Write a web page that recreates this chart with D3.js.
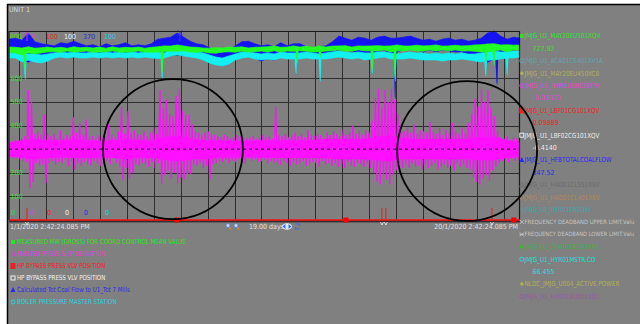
<!DOCTYPE html>
<html><head><meta charset="utf-8">
<script src="https://cdn.jsdelivr.net/npm/d3@7"></script>
<style>
html,body{margin:0;padding:0;background:#fff;overflow:hidden;}
svg{display:block;}
text{font-family:"Liberation Sans Narrow","DejaVu Sans Condensed","Arial Narrow",sans-serif;}
</style></head><body>
<svg id="c" width="640" height="324"></svg>
<script>
// ---------- DATA ----------
const startTime = new Date(2020,0,1,14,42,24,85);
const endTime   = new Date(2020,0,20,14,42,24,85);
const startLabel = "1/1/2020 2:42:24.085 PM";
const endLabel   = "20/1/2020 2:42:24.085 PM";
const spanLabel  = "19.00 days";
const title = "UNIT 1";

// trends (order of the left legend)
const trendNames = ["MEASURED MW (GROSS) FOR COORD CONTROL MEAN VALUE","MASTER PRESS & SP DEVIATION",
  "HP BYPASS PRESS VLV POSITION","HP BYPASS PRESS VLV POSITION",
  "Calculated Tot Coal Flow to U1_Tot 7 Mills","BOILER PRESSURE MASTER STATION"];
const trendColors = ["#22e622","#e03ae0","#f02020","#f2f2f2","#2a2ae6","#22d4dc"];
const trendMarkers = ["square","ring","bigsquare","opensquare","tri","ring"];
const trendMin = [0,-6,0,0,0,0];
const trendMax = [800,10,100,100,370,100];

// Measured MW envelope per time bucket (MW)
const mwHi = [732,731,728,733,727,729,732,728,731,727,733,729,731,728,732,727,733,728,731,729,732,727,731,733,737,736,741,737,732,731,728,727,729,728,732,731,733,728,731,732,733,736,731,732,737,732,736,731,737,732,736,737,738,732,737,736,737,738,736,737,741,737,736,740,737,738,741,736,737,740,737,738,741,742,745,746,741,742,740,741];
const mwLo = [711,707,698,707,703,707,711,712,710,715,711,712,715,710,711,712,715,711,710,712,715,711,710,711,712,715,714,716,711,710,712,707,706,711,712,710,715,711,712,715,711,716,711,715,714,716,714,711,712,715,716,720,715,714,720,716,716,715,720,711,716,715,720,716,714,720,715,720,716,720,715,716,714,711,713,715,720,711,720,719];
const mwDipTimes = [new Date(2020,0,2,5,0), new Date(2020,0,7,7,12), new Date(2020,0,12,7,40), new Date(2020,0,13,4,15), new Date(2020,0,15,2,40), new Date(2020,0,15,23,10), new Date(2020,0,19,8,20), new Date(2020,0,19,15,25)];
const mwDipValues = [635,631,669,694,643,605,677,660];
// Coal flow envelope (t/h)
const coalHi = [354,356,352,366,349,345,343,341,347,345,350,345,341,343,339,345,341,343,347,341,343,341,345,354,356,358,366,358,350,345,343,337,329,327,333,341,349,350,345,341,343,339,347,341,345,345,339,337,339,341,349,360,356,352,358,356,352,358,360,356,356,358,360,356,352,354,350,354,356,352,354,350,352,356,366,370,360,354,358,356];
const coalLo = [329,323,313,309,317,309,317,323,321,323,323,321,323,325,321,323,321,323,323,323,325,323,325,329,323,337,337,333,329,325,321,313,305,302,307,317,325,327,317,311,317,313,321,317,317,319,321,317,317,321,325,333,333,329,329,325,325,329,333,323,329,333,337,333,329,333,329,333,331,329,329,325,323,317,309,315,321,323,333,333];
const coalDipTimes = [new Date(2020,0,12,6,40), new Date(2020,0,13,4,15), new Date(2020,0,15,2,40), new Date(2020,0,15,23,10), new Date(2020,0,19,18,0)];
const coalDipValues = [302,305,302,241,268];
// Boiler pressure master station envelope (%)
const bpmHi = [88.9,88.4,87.8,87.8,87.8,87.3,87.8,88.4,88.9,88.4,88.9,88.4,88.4,88.9,88.4,88.9,88.4,88.9,88.4,88.9,88.4,88.9,88.9,88.9,88.4,89.9,89.9,89.9,89.4,88.9,88.4,87.3,86.2,85.7,86.8,87.8,88.9,88.9,88.4,87.8,88.4,87.8,88.9,88.4,88.4,88.4,88.9,88.4,87.8,88.4,88.9,89.4,88.9,88.4,88.9,88.4,88.4,88.9,88.9,88.4,87.8,88.4,88.9,88.4,88.4,87.8,88.4,87.8,88.4,87.8,88.4,87.8,87.8,88.4,88.9,89.4,88.9,88.9,89.4,89.4];
const bpmLo = [85.7,85.7,83.6,84.5,83.6,83.1,84.1,85.7,86.2,85.7,86.2,85.7,85.7,86.2,85.7,86.2,85.7,86.2,85.7,86.2,85.7,86.2,85.7,85.5,85.7,86.8,87.3,86.8,86.2,85.7,84.7,83.1,82.0,81.5,82.5,84.7,85.7,86.2,85.2,84.7,85.2,84.7,85.7,85.2,85.2,85.2,85.7,85.2,85.2,85.2,85.7,86.2,85.7,85.2,85.7,84.7,85.2,85.7,86.2,85.2,85.2,85.2,85.7,85.2,84.7,84.7,84.7,84.1,84.7,84.7,85.2,84.7,84.1,83.6,84.5,84.7,85.2,85.7,85.7,86.2];
const bpmDipTimes = [new Date(2020,0,2,5,0), new Date(2020,0,7,7,12), new Date(2020,0,12,6,40), new Date(2020,0,13,4,15), new Date(2020,0,15,2,40), new Date(2020,0,15,23,10), new Date(2020,0,19,8,0), new Date(2020,0,20,3,5)];
const bpmDipValues = [75.1,75.7,78.3,74.1,78.3,74.1,76.7,77.2];
// Master press & SP deviation: dense core envelope
const devCoreHi = [0.6,0.75,0.85,0.75,0.75,0.85,0.75,0.7,0.75,0.85,0.75,0.75,1.05,1.15,0.85,0.75,0.75,0.7,0.7,0.75,0.75,0.75,0.75,0.75,0.85,0.85,0.85,0.85,1.05,1.15,0.95,0.85,0.85,0.85,0.85,0.85,1.05,1.05,0.75,0.65];
const devCoreLo = [-0.65,-0.75,-0.85,-0.75,-0.7,-0.75,-0.75,-0.7,-0.75,-0.85,-0.75,-0.75,-0.95,-1.05,-0.85,-0.85,-0.75,-0.7,-0.7,-0.7,-0.75,-0.75,-0.75,-0.75,-0.75,-0.85,-0.85,-0.85,-0.95,-1.05,-0.85,-0.85,-0.85,-0.85,-0.85,-0.85,-0.95,-0.95,-0.75,-0.65];
// Master press & SP deviation: max / min per time bucket
const devMax = [0.7,0.6,0.8,0.7,0.9,1.1,5.0,4.0,1.3,1.5, 1.2,2.9,1.4,1.1,1.3,0.9,1.6,1.0,1.2,1.1,
 2.7,1.4,2.2,1.2,2.5,1.0,1.1,0.9,1.2,1.0, 1.1,2.1,1.2,1.0,1.5,3.6,1.3,3.2,1.4,1.6,
 1.3,1.2,1.5,1.1,1.4,1.8,1.3,5.0,3.5,4.2, 3.0,2.8,4.5,5.1,3.2,2.9,2.9,2.1,1.5,1.4,
 1.2,1.4,1.5,1.3,1.2,1.1,1.0,1.2,1.1,0.9, 1.0,1.2,1.1,1.0,0.9,1.0,1.1,0.9,1.0,1.2,
 1.0,1.1,0.9,3.6,1.2,1.1,1.3,1.0,1.2,1.4, 1.1,1.3,1.0,1.6,1.2,1.1,1.3,1.2,1.0,1.4,
 1.2,1.5,1.3,1.1,1.7,1.2,1.4,2.0,1.3,1.5, 1.2,1.6,1.4,2.4,4.3,5.1,3.5,5.0,4.0,5.1,
 4.2,3.0,2.0,1.5,1.8,1.4,2.1,1.3,1.6,1.5, 1.4,2.3,1.5,1.3,1.8,1.2,1.6,1.4,2.2,1.5,
 1.3,1.8,1.4,2.2,3.0,4.3,3.6,5.1,4.0,5.0, 3.5,2.8,1.6,1.0,0.9,1.1,0.8,1.0,0.9,0.8];
const devMin = [-0.7,-0.8,-0.6,-0.9,-1.0,-1.1,-3.3,-2.8,-1.2,-1.4, -1.3,-2.9,-1.2,-1.0,-1.3,-1.1,-1.2,-0.9,-1.4,-1.0,
 -1.7,-1.2,-1.4,-1.1,-1.3,-1.4,-1.0,-1.2,-1.4,-0.9, -1.0,-1.3,-0.8,-1.2,-1.5,-2.6,-1.6,-2.5,-2.0,-1.3,
 -1.4,-1.2,-1.3,-1.5,-1.1,-1.6,-1.2,-3.0,-2.2,-1.8, -2.5,-2.0,-2.9,-2.4,-2.6,-2.1,-2.1,-1.3,-1.4,-1.2,
 -1.6,-1.4,-2.6,-1.3,-1.2,-1.0,-1.1,-0.9,-1.2,-1.0, -1.1,-0.9,-1.0,-1.2,-0.8,-1.0,-0.9,-1.1,-1.0,-0.9,
 -1.2,-1.0,-1.1,-1.2,-1.3,-1.0,-1.2,-1.4,-1.1,-1.3, -1.2,-1.0,-1.4,-1.3,-1.1,-1.2,-1.5,-1.0,-1.3,-1.2,
 -1.4,-1.2,-1.5,-1.3,-1.6,-1.1,-1.4,-1.5,-1.2,-1.3, -1.5,-1.2,-1.6,-2.0,-2.8,-3.0,-2.2,-2.6,-3.0,-2.2,
 -1.8,-1.5,-1.6,-1.3,-1.6,-1.2,-1.5,-1.4,-1.7,-1.3, -1.6,-1.4,-1.2,-1.7,-1.5,-1.3,-1.6,-1.4,-1.8,-1.2,
 -1.5,-1.3,-1.6,-1.7,-2.4,-2.8,-3.0,-2.5,-2.2,-2.7, -1.8,-1.5,-1.2,-1.0,-0.9,-1.1,-0.8,-1.0,-0.9,-0.7];

// annotation circles (centre time, centre MW level, radius in days)
const noteTimes = [new Date(2020,0,7,17,0), new Date(2020,0,18,15,30)];
const noteLevels = [300, 292];
const noteRadiusDays = [2.6, 2.6];
// events on the time bar
const barSquareTimes = [new Date(2020,0,7,20,35), new Date(2020,0,14,3,25), new Date(2020,0,20,9,10)];
const barTickTimes = [new Date(2020,0,2,6,45), new Date(2020,0,15,11,30), new Date(2020,0,15,15,0), new Date(2020,0,19,13,40)];
const topMarkTimes = [new Date(2020,0,2,6,45), new Date(2020,0,7,23,15)];
const topMarkColors = ["#c040e0","#3a3aff"];

// right-hand tag legend
const tagNames = ["JMJG_U1_MAY20EU501XQV","JMJG_U1_ACA01CE401XV1A","JMJG_U1_MAY20EU450XC8","JMJG_U1_HYR01EU003XTV",
 "JMJG_U1_LBF01CG101XQV","JMJG_U1_LBF02CG101XQV","JMJG_U1_HFBTOTALCOALFLOW","JMJG_U1_HAD01CL551XSV",
 "JMJG_U1_HAD01CL401XSV","JMJG_U1_HYR01FREQIN","FREQUENCY DEADBAND UPPER LIMIT.Valu","FREQUENCY DEADBAND LOWER LIMIT.Valu",
 "JMJG_U1_CHA01CE301XV1","JMJG_U1_HYR01MSTR.CO","NLDC_JMJG_U004_ACTIVE POWER","JMJG_U1_HYR01EU001XQ1"];
const tagValues = ["727.92",null,null,"-0.01573","0.09889","-0.4140","347.52",null,null,null,null,null,null,"66.455",null,null];
const tagColors = ["#2ee02e","#62a6ae","#b4ae62","#e83ae8","#ee2424","#ececec","#2a2aee","#6c6c6c",
 "#b48a58","#3aa8a8","#c4c4c4","#c4c4c4","#3cb43c","#26dede","#b2b054","#9a5aa2"];
const tagMarkers = ["dot","ring","diamond","ring","bigsquare","opensquare","tri","opentri","ring","smalldot","x","star","triright","ring","diamond","ring"];

// ---------- DRAW ----------
const svg = d3.select("#c");
const P = {l:9, r:520, t:31, b:220};
const FS = 7;

svg.append("rect").attr("x",7).attr("y",4).attr("width",633).attr("height",320).attr("fill","#808080");
svg.append("path").attr("d","M7.5,324V4.5H640").attr("fill","none").attr("stroke","#000").attr("stroke-width",1.5);

const x = d3.scaleTime().domain([startTime,endTime]).range([P.l,P.r]);
const ys = trendMin.map((m,i)=>d3.scaleLinear().domain([m,trendMax[i]]).range([P.b,P.t]));
const yMW = ys[0], yDev = ys[1], yCoal = ys[4], yBpm = ys[5];
const tAt = (i,n)=> new Date(+startTime + i*(endTime-startTime)/(n-1));

svg.append("defs").append("clipPath").attr("id","pc").append("rect")
  .attr("x",P.l).attr("y",P.t-3).attr("width",P.r-P.l).attr("height",P.b-P.t+3);

// grid
const grid = svg.append("g").attr("stroke","#2e2e2e").attr("stroke-width",1);
grid.selectAll("line.h").data(yMW.ticks(8)).join("line")
  .attr("x1",P.l).attr("x2",P.r).attr("y1",d=>Math.round(yMW(d))+0.5).attr("y2",d=>Math.round(yMW(d))+0.5);
grid.selectAll("line.v").data(x.ticks(d3.timeDay.every(1))).join("line")
  .attr("y1",P.t).attr("y2",P.b).attr("x1",d=>Math.round(x(d))+0.5).attr("x2",d=>Math.round(x(d))+0.5);

// compress a legend text horizontally; if it would still overflow, shrink its font instead
function squeeze(sel,k,maxW){
  sel.each(function(){
    const L = this.getComputedTextLength();
    if(maxW && L*k > maxW){ d3.select(this).attr("font-size", FS*maxW/L); }
    else d3.select(this).attr("textLength",L*k).attr("lengthAdjust","spacingAndGlyphs");
  });
  return sel;
}

// MW gridline labels
svg.append("g").selectAll("text").data(yMW.ticks(8).filter(d=>d>0&&d<800)).join("text")
  .attr("x",P.l+1.5).attr("y",d=>yMW(d)).attr("dy","0.35em").attr("font-size",FS).attr("fill",trendColors[0]).text(d=>d);

// scale min/max labels
const slotX = [10,27,46,64,83,104];
svg.append("g").selectAll("text").data(trendMax).join("text")
  .attr("x",(d,i)=>slotX[i]).attr("y",P.t+5.5).attr("dy","0.35em").attr("font-size",FS)
  .attr("fill",(d,i)=>trendColors[i]).text(d=>d);
svg.append("g").selectAll("text").data(trendMin).join("text")
  .attr("x",(d,i)=>slotX[i]+1).attr("y",P.b-7).attr("dy","0.35em").attr("font-size",FS)
  .attr("fill",(d,i)=>trendColors[i]).text(d=>d);

// trends
const pg = svg.append("g").attr("clip-path","url(#pc)");
function band(hi,lo,y,color,dipT,dipV){
  const n = hi.length;
  const a = d3.area().x(i=>x(tAt(i,n))).y0(i=>y(lo[i])).y1(i=>y(hi[i]));
  pg.append("path").attr("d",a(d3.range(n))).attr("fill",color).attr("stroke",color).attr("stroke-width",0.7);
  dipT.forEach((dt,k)=>{
    const j = Math.round((dt-startTime)/(endTime-startTime)*(n-1));
    const cx = x(dt), y0 = y(lo[j]), y1 = y(dipV[k]);
    pg.append("path").attr("d",`M${cx-1.4},${y0}L${cx-0.3},${y1}L${cx+0.6},${y1+2}L${cx+1.4},${y0}Z`).attr("fill",color);
  });
}
band(coalHi,coalLo,yCoal,"#1414f0",coalDipTimes,coalDipValues);
band(bpmHi,bpmLo,yBpm,"#12f0f0",bpmDipTimes,bpmDipValues);
band(mwHi,mwLo,yMW,"#22ff22",mwDipTimes,mwDipValues);

// deviation: core + spikes
const nc = devCoreHi.length;
pg.append("path").attr("d",d3.area().x(i=>x(tAt(i,nc))).y0(i=>yDev(devCoreLo[i])).y1(i=>yDev(devCoreHi[i]))(d3.range(nc)))
  .attr("fill","#ff10ff");
const nd = devMax.length;
const pts = [];
devMax.forEach((m,i)=>{
  const cx = x(tAt(i,nd));
  pts.push([cx, yDev(m)], [cx+1.6, yDev(devMin[i])]);
});
pg.append("path").attr("d",d3.line()(pts)).attr("fill","none").attr("stroke","#ff10ff").attr("stroke-width",1.3);

// dashed reference at 300 MW
svg.append("line").attr("x1",P.l).attr("x2",P.r).attr("y1",yMW(300)).attr("y2",yMW(300))
  .attr("stroke","#111").attr("stroke-width",1).attr("stroke-dasharray","3,3");

// top markers
topMarkTimes.forEach((t,i)=>{
  const cx = x(t);
  svg.append("path").attr("d",`M${cx-2.5},${P.t-1}L${cx+2.5},${P.t+4}M${cx+2.5},${P.t-1}L${cx-2.5},${P.t+4}M${cx},${P.t+2}V${P.t+10}`)
    .attr("stroke",topMarkColors[i]).attr("stroke-width",1).attr("fill","none");
});

// plot frame
svg.append("path").attr("d",`M${P.l},${P.b}V${P.t+0.5}H${P.r-0.5}V${P.b}`).attr("fill","none").attr("stroke","#1a1a1a").attr("stroke-width",1.2);

// time bar
svg.append("line").attr("x1",P.l).attr("x2",P.r).attr("y1",P.b+1.8).attr("y2",P.b+1.8).attr("stroke","#111").attr("stroke-width",1);
svg.append("line").attr("x1",P.l).attr("x2",P.r).attr("y1",P.b).attr("y2",P.b).attr("stroke","#ff1010").attr("stroke-width",1.6);
barTickTimes.forEach(t=>{
  const cx=x(t);
  svg.append("line").attr("x1",cx).attr("x2",cx).attr("y1",P.b-12).attr("y2",P.b).attr("stroke","#e02020").attr("stroke-width",1);
  svg.append("path").attr("d",`M${cx-1.5},${P.b+2}L${cx},${P.b+5}L${cx+1.5},${P.b+2}`).attr("stroke","#eee").attr("fill","none").attr("stroke-width",0.8);
});
svg.append("g").selectAll("rect").data(barSquareTimes).join("rect")
  .attr("x",d=>x(d)-2.5).attr("y",P.b-2.5).attr("width",5).attr("height",5).attr("fill","#ff0000");

// texts
svg.append("text").attr("x",9).attr("y",10).attr("dy","0.35em").attr("font-size",FS).attr("fill","#dcdcdc").text(title);
svg.append("text").attr("x",10).attr("y",227).attr("dy","0.35em").attr("font-size",FS).attr("fill","#e0e0e0").text(startLabel);
svg.append("text").attr("x",518).attr("y",227).attr("dy","0.35em").attr("font-size",FS).attr("fill","#e0e0e0").attr("text-anchor","end").text(endLabel);
svg.append("text").attr("x",249).attr("y",227).attr("dy","0.35em").attr("font-size",FS).attr("fill","#e0e0e0").text(spanLabel);
[228,236].forEach(cx=>{
  svg.append("line").attr("x1",cx+1).attr("y1",227).attr("x2",cx+3).attr("y2",229.5).attr("stroke","#e08a20").attr("stroke-width",1.2);
  svg.append("circle").attr("cx",cx).attr("cy",225.5).attr("r",2).attr("fill","#c8d8f4").attr("stroke","#5a7ad0").attr("stroke-width",0.8);
});
svg.append("ellipse").attr("cx",287).attr("cy",226.5).attr("rx",5).attr("ry",3.2).attr("fill","#dfe8fb");
svg.append("path").attr("d","M282.5,226.5l3,-2.5v5z M291.5,226.5l-3,-2.5v5z").attr("fill","#3a6ee0");
svg.append("path").attr("d","M295.5,224h4v2 M299.5,229h-4v-2").attr("stroke","#3a6ee0").attr("fill","none").attr("stroke-width",1.2);

function marker(g,type,cx,cy,color){
  switch(type){
    case "dot": g.append("circle").attr("cx",cx).attr("cy",cy).attr("r",2.2).attr("fill",color); break;
    case "smalldot": g.append("circle").attr("cx",cx).attr("cy",cy).attr("r",1).attr("fill",color); break;
    case "ring": g.append("circle").attr("cx",cx).attr("cy",cy).attr("r",2).attr("fill","none").attr("stroke",color).attr("stroke-width",1); break;
    case "square": g.append("rect").attr("x",cx-2).attr("y",cy-2).attr("width",4).attr("height",4).attr("fill",color); break;
    case "bigsquare": g.append("rect").attr("x",cx-2.5).attr("y",cy-3).attr("width",5).attr("height",6).attr("fill",color); break;
    case "opensquare": g.append("rect").attr("x",cx-2).attr("y",cy-2).attr("width",4).attr("height",4).attr("fill","none").attr("stroke",color).attr("stroke-width",1); break;
    case "tri": g.append("path").attr("d",`M${cx},${cy-3}L${cx+2.5},${cy+2}H${cx-2.5}Z`).attr("fill",color); break;
    case "opentri": g.append("path").attr("d",`M${cx},${cy-2.5}L${cx+2.2},${cy+2}H${cx-2.2}Z`).attr("fill","none").attr("stroke",color).attr("stroke-width",0.8); break;
    case "triright": g.append("path").attr("d",`M${cx-2},${cy-2.5}L${cx+2.5},${cy}L${cx-2},${cy+2.5}Z`).attr("fill",color); break;
    case "diamond": g.append("path").attr("d",`M${cx},${cy-2.2}L${cx+2},${cy}L${cx},${cy+2.2}L${cx-2},${cy}Z`).attr("fill",color); break;
    case "x": g.append("path").attr("d",`M${cx-2},${cy-2}L${cx+2},${cy+2}M${cx+2},${cy-2}L${cx-2},${cy+2}`).attr("stroke",color).attr("stroke-width",0.9); break;
    case "star": g.append("path").attr("d",`M${cx-2},${cy-2}L${cx+2},${cy+2}M${cx+2},${cy-2}L${cx-2},${cy+2}M${cx-2.4},${cy}H${cx+2.4}`).attr("stroke",color).attr("stroke-width",0.9); break;
  }
}

// left legend
const lg = svg.append("g");
trendNames.forEach((n,i)=>{
  const cy = 242 + 12*i;
  marker(lg,trendMarkers[i],13,cy,trendColors[i]);
  squeeze(lg.append("text").attr("x",17).attr("y",cy).attr("dy","0.35em").attr("font-size",FS).attr("fill",trendColors[i]).text(n),0.87);
});

// right legend
const rg = svg.append("g");
let line = 0;
tagNames.forEach((n,i)=>{
  const cy = 36 + 12.4*line;
  marker(rg,tagMarkers[i],521.8,cy,tagColors[i]);
  squeeze(rg.append("text").attr("x",524.5).attr("y",cy).attr("dy","0.35em").attr("font-size",FS).attr("fill",tagColors[i]).text(n),0.9,110);
  line++;
  if(tagValues[i]!==null){
    rg.append("text").attr("x",532.5).attr("y",36+12.4*line).attr("dy","0.35em").attr("font-size",FS).attr("fill",tagColors[i]).text(tagValues[i]);
    line++;
  }
});

// annotation circles (drawn last, over the legend)
noteTimes.forEach((t,i)=>{
  const cx = x(t), r = x(new Date(+t + noteRadiusDays[i]*864e5)) - cx;
  svg.append("circle").attr("cx",cx).attr("cy",yMW(noteLevels[i])).attr("r",r)
    .attr("fill","none").attr("stroke","#000").attr("stroke-width",1.8);
});
</script>
</body></html>
